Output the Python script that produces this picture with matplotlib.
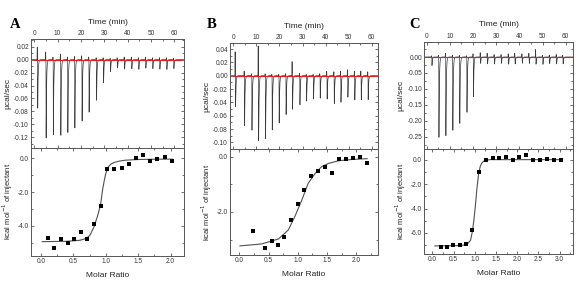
import numpy as np
import matplotlib
matplotlib.use("Agg")
import matplotlib.pyplot as plt
from matplotlib.ticker import MultipleLocator, FuncFormatter

plt.rcParams['font.family'] = ['Liberation Sans', 'DejaVu Sans']

# ---------------- data ----------------
# Raw thermograms: injection times (min), peak minima (ucal/s), small upward ticks
injA_t = [1.4, 5.0, 8.1, 11.3, 14.3, 17.3, 20.4, 23.4, 26.6, 29.6, 32.6, 35.6, 38.6, 41.7, 44.7, 47.7, 50.7, 53.7, 56.7, 59.7]
injA_peak = [-0.0757, -0.122, -0.117, -0.119, -0.115, -0.1065, -0.097, -0.082, -0.063, -0.0365, -0.0185, -0.013, -0.015, -0.014, -0.015, -0.0134, -0.014, -0.015, -0.015, -0.014]
injA_up = [0.020, 0.012, 0.004, 0.009, 0.004, 0.005, 0.006, 0.004, 0.003, 0.003, 0.002, 0.003, 0.004, 0.004, 0.003, 0.004, 0.003, 0.003, 0.003, 0.002]

injB_t = [0.9, 4.8, 8.0, 10.9, 13.9, 16.8, 19.8, 22.8, 25.6, 28.8, 31.7, 34.7, 37.6, 40.6, 43.7, 46.6, 49.6, 52.6, 55.4, 58.4]
injB_peak = [-0.0475, -0.0755, -0.083, -0.099, -0.0955, -0.083, -0.0715, -0.060, -0.051, -0.0445, -0.038, -0.0355, -0.034, -0.0355, -0.043, -0.040, -0.033, -0.0365, -0.037, -0.036]
injB_up = [0.036, 0.007, 0.003, 0.045, 0.003, 0.002, 0.002, 0.003, 0.022, 0.004, 0.002, 0.002, 0.003, 0.007, 0.006, 0.007, 0.009, 0.007, 0.007, 0.006]

injC_t = [2.2, 5.2, 8.2, 11.2, 14.2, 17.3, 20.1, 23.2, 26.2, 29.2, 32.2, 35.3, 38.1, 41.2, 44.2, 47.1, 50.1, 53.0, 56.0, 58.8]
injC_peak = [-0.027, -0.260, -0.248, -0.235, -0.210, -0.175, -0.127, -0.020, -0.022, -0.022, -0.020, -0.023, -0.022, -0.020, -0.020, -0.023, -0.023, -0.021, -0.022, -0.022]
injC_up = [0.004, 0.006, 0.012, 0.006, 0.005, 0.004, 0.010, 0.014, 0.012, 0.008, 0.008, 0.010, 0.012, 0.010, 0.012, 0.024, 0.006, 0.006, 0.008, 0.006]

# Integrated heats (molar ratio, kcal/mol of injectant)
A_x = [0.113, 0.206, 0.308, 0.411, 0.509, 0.612, 0.709, 0.822, 0.920, 1.023, 1.131, 1.249, 1.357, 1.465, 1.578, 1.686, 1.794, 1.913, 2.026]
A_y = [-4.69, -5.28, -4.75, -5.00, -4.79, -4.37, -4.79, -3.86, -2.84, -0.65, -0.61, -0.57, -0.33, 0.02, 0.20, -0.16, -0.06, 0.06, -0.14]
A_fit_x = [0.02, 0.4, 0.6, 0.7, 0.76, 0.82, 0.87, 0.92, 0.95, 0.98, 1.0, 1.04, 1.08, 1.12, 1.2, 1.3, 1.5, 1.8, 2.03]
A_fit_y = [-4.93, -4.91, -4.85, -4.74, -4.53, -4.04, -3.45, -2.75, -1.87, -1.25, -0.89, -0.50, -0.34, -0.26, -0.17, -0.11, -0.07, -0.05, -0.05]

B_x = [0.229, 0.446, 0.554, 0.663, 0.771, 0.886, 1.000, 1.114, 1.234, 1.354, 1.469, 1.589, 1.709, 1.829, 1.949, 2.069, 2.194]
B_y = [-2.69, -3.30, -3.05, -3.19, -2.92, -2.28, -1.71, -1.19, -0.71, -0.53, -0.36, -0.60, -0.10, -0.07, -0.05, 0.00, -0.22]
B_fit_x = [0.01, 0.38, 0.67, 0.84, 0.95, 1.07, 1.18, 1.30, 1.41, 1.53, 1.70, 1.93, 2.19]
B_fit_y = [-3.23, -3.16, -2.98, -2.65, -2.17, -1.57, -0.96, -0.60, -0.36, -0.24, -0.145, -0.10, -0.07]

C_x = [0.196, 0.346, 0.495, 0.644, 0.793, 0.943, 1.092, 1.257, 1.422, 1.579, 1.736, 1.893, 2.050, 2.215, 2.380, 2.537, 2.700, 2.867, 3.030]
C_y = [-7.11, -7.14, -6.95, -7.00, -6.87, -5.72, -1.04, -0.05, 0.11, 0.16, 0.25, 0.00, 0.22, 0.38, 0.00, -0.05, 0.05, 0.00, -0.03]
C_fit_x = [0.06, 0.6, 0.81, 0.90, 0.943, 0.98, 1.013, 1.05, 1.092, 1.13, 1.163, 1.21, 1.257, 1.36, 3.03]
C_fit_y = [-7.06, -7.03, -6.98, -6.60, -5.89, -4.95, -3.84, -2.40, -1.12, -0.55, -0.30, -0.13, -0.05, 0.0, 0.0]

time_ticks = [0, 10, 20, 30, 40, 50, 60]

# ---------------- helpers ----------------
W, H = 584, 286
fig = plt.figure(figsize=(W / 100, H / 100), dpi=100)

def fbox(x0, y0, x1, y1):
    return [x0 / W, 1 - y1 / H, (x1 - x0) / W, (y1 - y0) / H]

TICK_FS = 4.7
LAB_FS = 6.0
SPINE_C = '#555555'
TXT_C = '#333333'

def fmt(nd):
    def f(v, pos):
        s = f'{v:.{nd}f}'
        if float(s) == 0:
            s = f'{0:.{nd}f}'
        return s
    return FuncFormatter(f)

def style(ax):
    for s in ax.spines.values():
        s.set_color(SPINE_C)
        s.set_linewidth(0.7)
    ax.tick_params(which='both', direction='in', colors=SPINE_C, labelcolor=TXT_C,
                   labelsize=TICK_FS, width=0.6, pad=1.5)
    ax.tick_params(which='major', length=2.2)
    ax.tick_params(which='minor', length=1.3)

def thermogram(ax, tt, pk, up):
    t = np.linspace(-2, 64, 8000)
    y = np.zeros_like(t)
    for ti, a, u in zip(tt, pk, up):
        dt = t - ti
        drop = np.where((dt >= 0) & (dt < 0.08), a * dt / 0.08, 0.0)
        dec = np.where(dt >= 0.08, a * np.exp(-(dt - 0.08) / 0.18), 0.0)
        y += drop + dec
        du = t - (ti - 0.12)
        y += np.where(np.abs(du) < 0.1, u * (1 - np.abs(du) / 0.1), 0.0)
    ax.plot(t, y, color='#3a3a3a', lw=0.5)
    ax.plot([0, 63], [0, 0], color='#e02020', lw=0.8, zorder=3)

def top_panel(box, tt, pk, up, xlim, ylim, ymaj, ymin_, letter, letter_xy):
    ax = fig.add_axes(fbox(*box))
    thermogram(ax, tt, pk, up)
    ax.set_xlim(*xlim)
    ax.set_ylim(*ylim)
    ax.xaxis.tick_top()
    ax.xaxis.set_label_position('top')
    ax.set_xticks(time_ticks)
    ax.xaxis.set_minor_locator(MultipleLocator(5))
    ax.yaxis.set_major_locator(MultipleLocator(ymaj))
    ax.yaxis.set_minor_locator(MultipleLocator(ymin_))
    ax.yaxis.set_major_formatter(fmt(2))
    ax.tick_params(axis='x', which='both', top=True, bottom=True)
    ax.tick_params(axis='y', which='both', left=True, right=True)
    ax.tick_params(axis='x', labelbottom=False)
    style(ax)
    ax.set_xlabel('Time (min)', fontsize=LAB_FS, color='#222222', labelpad=4.5)
    ax.set_ylabel('\u00b5cal/sec', fontsize=LAB_FS, color='#222222', labelpad=2)
    fig.text(letter_xy[0] / W, 1 - letter_xy[1] / H, letter, fontsize=10.5,
             fontweight='bold', family='Liberation Serif', ha='center', va='center')
    return ax

def bottom_panel(box, x, y, fx, fy, xlim, ylim, xmaj, ymaj, ymin_):
    ax = fig.add_axes(fbox(*box))
    ax.plot(fx, fy, color='#505050', lw=0.8)
    ax.plot(x, y, 's', color='black', ms=2.8, mew=0)
    ax.set_xlim(*xlim)
    ax.set_ylim(*ylim)
    ax.xaxis.set_major_locator(MultipleLocator(xmaj))
    ax.xaxis.set_minor_locator(MultipleLocator(xmaj / 2))
    ax.xaxis.set_major_formatter(fmt(1))
    ax.yaxis.set_major_locator(MultipleLocator(ymaj))
    ax.yaxis.set_minor_locator(MultipleLocator(ymin_))
    ax.yaxis.set_major_formatter(fmt(1))
    ax.tick_params(axis='x', which='both', top=True, bottom=True)
    ax.tick_params(axis='y', which='both', left=True, right=True)
    style(ax)
    ax.set_xlabel('Molar Ratio', fontsize=LAB_FS, color='#222222', labelpad=5)
    ax.set_ylabel('kcal mol$^{-1}$ of injectant', fontsize=LAB_FS - 0.5, color='#222222', labelpad=2)
    return ax

# Panel A
top_panel((31, 39, 184, 147.5), injA_t, injA_peak, injA_up, (-1.4, 64.1), (-0.1358, 0.0319),
          0.02, 0.01, 'A', (15, 25))
bottom_panel((31, 147.5, 184, 255.5), A_x, A_y, A_fit_x, A_fit_y, (-0.154, 2.207), (-5.75, 0.64),
             0.5, 2.0, 1.0)

# Panel B
top_panel((230, 43.3, 377.7, 149), injB_t, injB_peak, injB_up, (-1.45, 62.6), (-0.110, 0.0486),
          0.02, 0.01, 'B', (212, 25))
bottom_panel((230, 149, 377.7, 255), B_x, B_y, B_fit_x, B_fit_y, (-0.16, 2.37), (-3.56, 0.28),
             0.5, 2.0, 1.0)

# Panel C
top_panel((424.3, 41.7, 572.7, 149), injC_t, injC_peak, injC_up, (-1.04, 63.0), (-0.2886, 0.048),
          0.05, 0.025, 'C', (415, 25))
bottom_panel((424.3, 149, 572.7, 254), C_x, C_y, C_fit_x, C_fit_y, (-0.19, 3.31), (-7.72, 0.87),
             0.5, 2.0, 1.0)

fig.savefig('out.png', dpi=100)
